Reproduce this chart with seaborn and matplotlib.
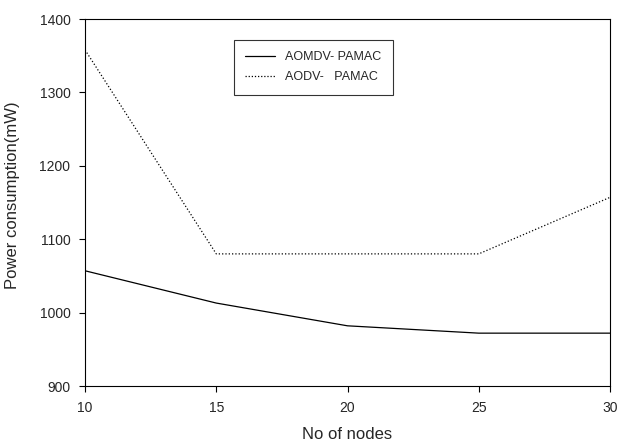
import pandas as pd
import seaborn as sns
import matplotlib.pyplot as plt

nodes = [10, 15, 20, 25, 30]
aomdv_pamac = [1057, 1013, 982, 972, 972]
aodv_pamac = [1358, 1080, 1080, 1080, 1157]

df = pd.DataFrame({
    'nodes': nodes * 2,
    'power': aomdv_pamac + aodv_pamac,
    'protocol': ['AOMDV- PAMAC'] * 5 + ['AODV-   PAMAC'] * 5,
})

sns.set_style('white')
plt.rcParams['font.family'] = ['Liberation Sans', 'DejaVu Sans']

fig = plt.figure(figsize=(6.19, 4.44), dpi=100)
# axes box from the reference: x 85..610, y 19..386 px
ax = fig.add_axes([85 / 619, 58 / 444, 525 / 619, 367 / 444])

sns.lineplot(data=df, x='nodes', y='power', hue='protocol', style='protocol',
             palette=['black', 'black'], dashes=[(None, None), (1, 1.5)],
             linewidth=0.9, ax=ax)
ax.lines[1].set_linestyle(':')

ax.set_xlim(10, 30)
ax.set_ylim(900, 1400)
ax.set_xticks([10, 15, 20, 25, 30])
ax.set_yticks([900, 1000, 1100, 1200, 1300, 1400])
ax.tick_params(axis='both', direction='out', length=4.5, width=0.8,
               labelsize=10, color='black', bottom=True, left=True, pad=6)
for s in ax.spines.values():
    s.set_color('black')
    s.set_linewidth(0.8)

ax.set_xlabel('No of nodes', fontsize=12)
ax.set_ylabel('Power consumption(mW)', fontsize=12)
ax.xaxis.set_label_coords(0.5, -0.112)
ax.yaxis.set_label_coords(-0.124, 0.52)

leg = ax.legend(loc='upper left', bbox_to_anchor=(0.284, 0.943), fontsize=9,
                frameon=True, fancybox=False, edgecolor='black',
                handlelength=2.4, handletextpad=0.8, borderpad=0.9,
                labelspacing=0.65, borderaxespad=0)
leg.get_frame().set_linewidth(0.8)

plt.savefig('out.png', dpi=100)
